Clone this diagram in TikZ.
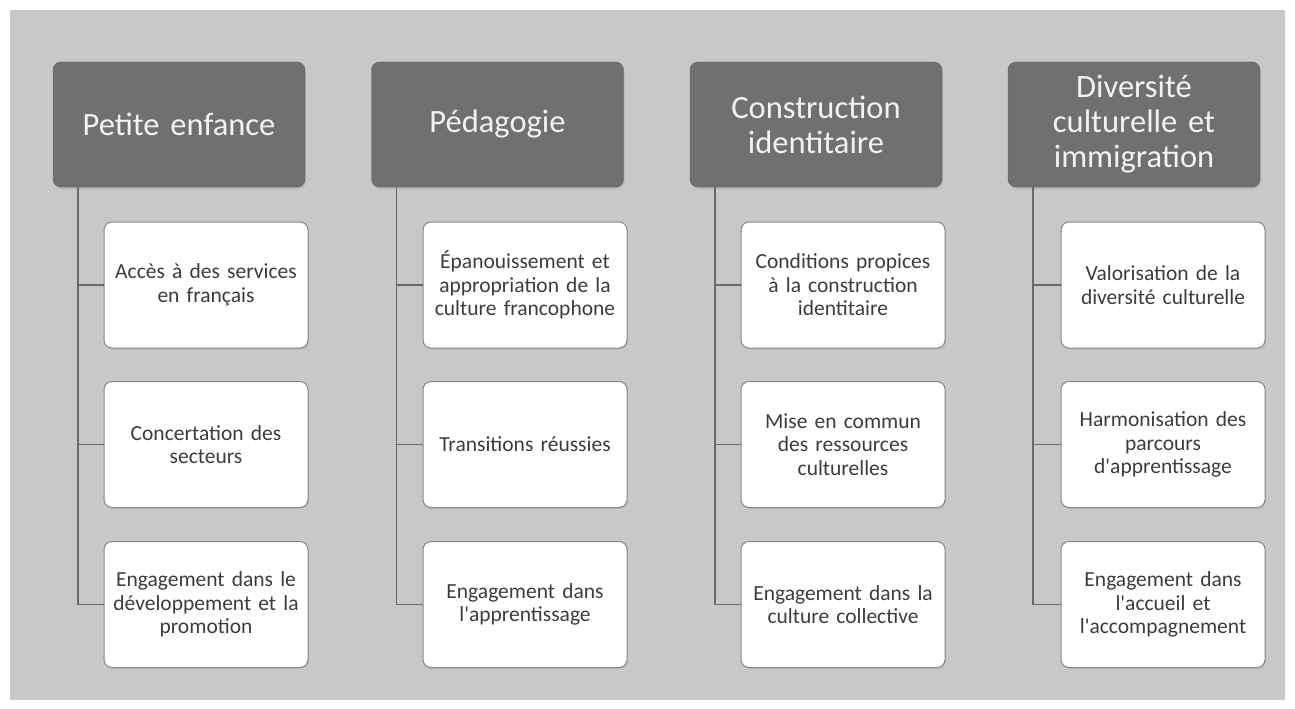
\documentclass[tikz,border=0pt]{standalone}
\usepackage{fontspec}
\setmainfont{Carlito}
\usetikzlibrary{positioning,shadows}
\definecolor{panelgray}{RGB}{200,200,200}
\definecolor{headgray}{RGB}{112,112,112}
\definecolor{linegray}{RGB}{105,105,105}
\definecolor{bordergray}{RGB}{135,135,135}
\definecolor{textgray}{RGB}{60,60,60}
\newcommand{\apos}{\XeTeXglyph\XeTeXcharglyph"0027\relax}
\begin{document}
\begin{tikzpicture}[x=1pt,y=-1pt,
    titlebox/.style={draw=headgray!85!black, fill=headgray, rounded corners=8pt,
      minimum width=252pt, minimum height=125pt, text width=236pt, align=center,
      inner sep=0pt, text=white!95!black, font=\fontsize{32.5}{35}\selectfont,
      drop shadow={opacity=0.25, shadow xshift=1pt, shadow yshift=-2pt}},
    itembox/.style={draw=bordergray, fill=white, rounded corners=8pt, line width=1pt,
      minimum width=204pt, minimum height=126pt, text width=196pt, align=center,
      inner sep=0pt, text=textgray, font=\fontsize{21.5}{23.5}\selectfont,
      drop shadow={opacity=0.2, shadow xshift=1pt, shadow yshift=-1.5pt}},
    link/.style={draw=linegray, line width=1.4pt}]
    \useasboundingbox[fill=white] (0,0) rectangle (1295,709);
    \fill[panelgray] (10,10) rectangle (1285,700);
    % headers
    \node[titlebox] (h1) at (179,124.5) {Petite enfance};
    \node[titlebox] (h2) at (497.5,124.5) {Pédagogie};
    \node[titlebox] (h3) at (816,124.5) {Construction\\identitaire};
    \node[titlebox] (h4) at (1134,124.5) {Diversité\\culturelle et\\immigration};
    % first column
    \node[itembox] (c11) at (206,285) {Accès à des services\\en français};
    \node[itembox] (c12) at (206,444.5) {Concertation des\\secteurs};
    \node[itembox] (c13) at (206,604.5) {Engagement dans le\\développement et la\\promotion};
    % second column
    \node[itembox] (c21) at (525,285) {Épanouissement et\\appropriation de la\\culture francophone};
    \node[itembox] (c22) at (525,444.5) {Transitions réussies};
    \node[itembox] (c23) at (525,604.5) {Engagement dans\\l\apos apprentissage};
    % third column
    \node[itembox] (c31) at (843,285) {Conditions propices\\à la construction\\identitaire};
    \node[itembox] (c32) at (843,444.5) {Mise en commun\\des ressources\\culturelles};
    \node[itembox] (c33) at (843,604.5) {Engagement dans la\\culture collective};
    % fourth column
    \node[itembox] (c41) at (1163,285) {Valorisation de la\\diversité culturelle};
    \node[itembox] (c42) at (1163,444.5) {Harmonisation des\\parcours\\d\apos apprentissage};
    \node[itembox] (c43) at (1163,604.5) {Engagement dans\\l\apos accueil et\\l\apos accompagnement};
    % connectors
    \coordinate (t1) at ([xshift=25pt]h1.south west);
    \coordinate (t2) at ([xshift=25pt]h2.south west);
    \coordinate (t3) at ([xshift=25pt]h3.south west);
    \coordinate (t4) at ([xshift=25pt]h4.south west);
    \draw[link] (t1) |- (c13.west);
    \draw[link] (t1 |- c11.west) -- (c11.west);
    \draw[link] (t1 |- c12.west) -- (c12.west);
    \draw[link] (t2) |- (c23.west);
    \draw[link] (t2 |- c21.west) -- (c21.west);
    \draw[link] (t2 |- c22.west) -- (c22.west);
    \draw[link] (t3) |- (c33.west);
    \draw[link] (t3 |- c31.west) -- (c31.west);
    \draw[link] (t3 |- c32.west) -- (c32.west);
    \draw[link] (t4) |- (c43.west);
    \draw[link] (t4 |- c41.west) -- (c41.west);
    \draw[link] (t4 |- c42.west) -- (c42.west);
\end{tikzpicture}
\end{document}
